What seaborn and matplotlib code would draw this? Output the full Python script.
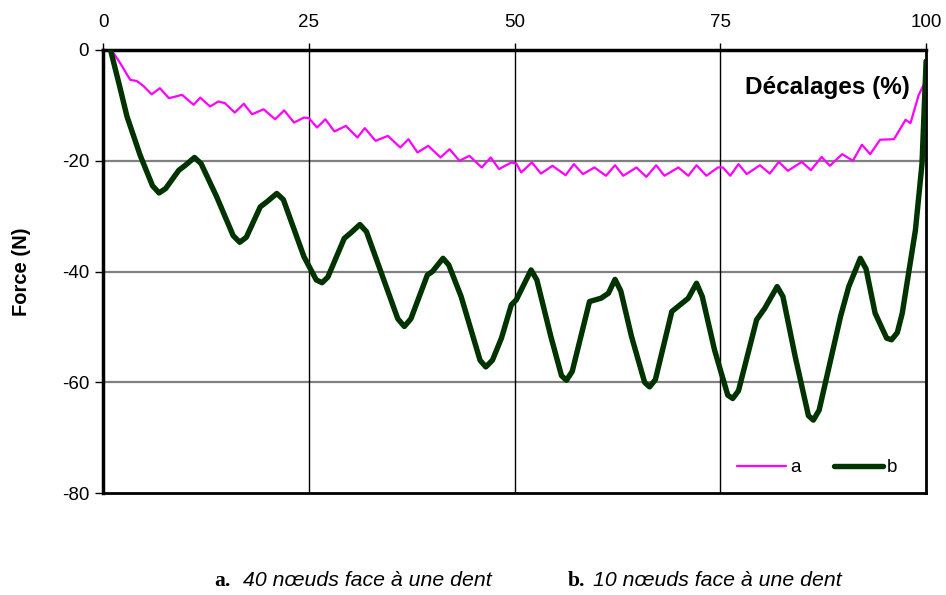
import numpy as np
import pandas as pd
import matplotlib
matplotlib.use("Agg")
import matplotlib.pyplot as plt
import seaborn as sns

# Courbe a : 40 noeuds face a une dent
a_x = [1.0, 2.0, 3.3, 4.1, 4.9, 5.9, 6.9, 8.0, 9.6, 11.0, 11.8, 13.0, 14.0, 14.8,
       16.0, 17.1, 18.1, 19.5, 20.9, 22.0, 23.2, 24.4, 25.0, 26.0, 27.0, 28.1,
       29.5, 30.9, 31.8, 33.1, 34.6, 36.1, 37.1, 38.2, 39.5, 41.0, 42.1, 43.3,
       44.5, 46.0, 47.1, 48.1, 49.6, 50.2, 50.8, 52.1, 53.2, 54.6, 56.2, 57.2,
       58.3, 59.7, 61.1, 62.2, 63.2, 64.8, 66.0, 67.2, 68.2, 69.9, 71.1, 72.1,
       73.3, 74.7, 75.3, 76.2, 77.2, 78.2, 79.8, 81.0, 82.1, 83.2, 84.9, 86.0,
       87.3, 88.3, 89.8, 91.1, 92.2, 93.2, 94.4, 96.1, 97.5, 98.1, 99.1, 99.8,
       100.0]
a_y = [0.0, -2.2, -5.4, -5.6, -6.5, -8.0, -6.9, -8.7, -8.1, -9.9, -8.6, -10.2, -9.3, -9.6,
       -11.3, -9.7, -11.6, -10.7, -12.5, -10.9, -13.1, -12.2, -12.3, -14.0, -12.5, -14.7,
       -13.7, -15.8, -14.1, -16.4, -15.5, -17.6, -16.1, -18.5, -17.3, -19.4, -17.9, -20.0,
       -19.1, -21.2, -19.4, -21.5, -20.3, -20.5, -22.1, -20.3, -22.3, -20.9, -22.6, -20.6,
       -22.4, -21.2, -22.7, -20.8, -22.7, -21.2, -22.9, -20.8, -22.7, -21.2, -22.7, -20.8,
       -22.7, -21.2, -21.2, -22.7, -20.6, -22.4, -20.8, -22.3, -20.2, -21.8, -20.2, -21.7,
       -19.3, -20.9, -18.8, -20.0, -17.1, -18.8, -16.2, -16.1, -12.6, -13.2, -8.1, -6.0,
       -3.5]

# Courbe b : 10 noeuds face a une dent
b_x = [0.9, 2.0, 2.9, 4.5, 6.0, 6.8, 7.6, 9.2, 10.0, 11.1, 11.9, 13.8, 15.8, 16.6,
       17.4, 19.1, 19.9, 21.1, 21.9, 24.4, 25.9, 26.6, 27.3, 29.3, 30.1, 31.2, 32.0,
       35.8, 36.6, 37.4, 39.4, 40.0, 41.3, 42.0, 43.5, 45.8, 46.5, 47.3, 48.4, 49.6,
       50.2, 52.0, 52.7, 54.4, 55.7, 56.3, 57.0, 59.1, 60.5, 61.4, 62.2, 62.9, 64.2,
       65.8, 66.4, 67.1, 69.1, 71.1, 72.1, 72.8, 74.3, 75.9, 76.5, 77.2, 79.4, 80.4,
       81.9, 82.6, 84.1, 85.7, 86.3, 87.0, 89.6, 90.6, 92.0, 92.7, 93.8, 95.2, 95.8,
       96.5, 97.1, 98.7, 99.5, 100.0]
b_y = [0.0, -6.5, -12.0, -19.0, -24.5, -25.8, -25.0, -21.7, -20.8, -19.4, -20.5, -26.5, -33.5, -34.7,
       -33.8, -28.3, -27.4, -25.9, -27.0, -37.3, -41.5, -42.0, -41.0, -34.0, -33.0, -31.5, -32.8,
       -48.5, -49.9, -48.5, -40.6, -40.0, -37.6, -38.8, -44.5, -56.0, -57.2, -56.0, -52.0, -46.0,
       -45.1, -39.7, -41.5, -51.7, -58.8, -59.6, -58.0, -45.4, -44.8, -43.9, -41.4, -43.5, -51.7,
       -60.0, -60.8, -59.5, -47.2, -44.8, -42.1, -44.5, -54.2, -62.3, -62.9, -61.5, -48.7, -46.6,
       -42.7, -44.5, -55.4, -66.0, -66.8, -65.0, -48.1, -42.7, -37.6, -39.5, -47.5, -52.0, -52.3,
       -51.0, -47.5, -32.5, -20.5, -2.0]

x_ticks = [0, 25, 50, 75, 100]
y_ticks = [0, -20, -40, -60, -80]

sns.set_style("white")
plt.rcParams['font.family'] = ['Liberation Sans', 'DejaVu Sans']
plt.rcParams['axes.unicode_minus'] = False
plt.rcParams['text.color'] = 'black'
plt.rcParams['axes.labelcolor'] = 'black'
plt.rcParams['xtick.color'] = 'black'
plt.rcParams['ytick.color'] = 'black'

fig = plt.figure(figsize=(9.46, 5.95), dpi=100)
ax = fig.add_axes([0.109, 0.171, 0.870, 0.745])

# grille
for y in [-20, -40, -60]:
    ax.axhline(y, color='#808080', lw=1.6, zorder=1)
for x in [25, 50, 75]:
    ax.axvline(x, color='black', lw=1.0, zorder=1)

sns.lineplot(x=a_x, y=a_y, ax=ax, color='#FF00FF', lw=1.6, label='a', sort=False,
             zorder=3, solid_joinstyle='round')
sns.lineplot(x=b_x, y=b_y, ax=ax, color='#003300', lw=3.9, label='b', sort=False,
             zorder=4, solid_joinstyle='round', solid_capstyle='round')

ax.set_xlim(0, 100)
ax.set_ylim(-80, 0)
ax.set_xticks(x_ticks)
ax.set_yticks(y_ticks)
ax.set_yticklabels([str(v) for v in y_ticks])
ax.xaxis.tick_top()
ax.tick_params(axis='x', direction='out', length=5, width=1, labelsize=13.5, pad=9)
ax.tick_params(axis='y', direction='out', length=6, width=1, labelsize=13.5, pad=4)
ax.tick_params(axis='y', left=True)
ax.tick_params(axis='x', top=True)

for side, w in [('top', 2.5), ('left', 2.5), ('bottom', 2.0), ('right', 2.0)]:
    ax.spines[side].set_color('black')
    ax.spines[side].set_linewidth(w)

ax.set_xlabel('')
ax.set_ylabel('Force (N)', fontsize=14.5, fontweight='bold', labelpad=22)
ax.text(0.98, 0.916, 'Décalages (%)', transform=ax.transAxes, ha='right', va='center',
        fontsize=17.5, fontweight='bold', zorder=5)

ax.legend(loc='lower right', bbox_to_anchor=(0.985, 0.0), ncol=2, frameon=False,
          fontsize=13.5, handlelength=2.6, handletextpad=0.2, columnspacing=1.8)

# légende du bas
fig.text(0.227, 0.015, 'a.', fontsize=15.5, fontweight='bold', family=['Liberation Serif'])
fig.text(0.257, 0.015, '40 nœuds face à une dent', fontsize=15.3, style='italic')
fig.text(0.600, 0.015, 'b.', fontsize=15.5, fontweight='bold', family=['Liberation Serif'])
fig.text(0.627, 0.015, '10 nœuds face à une dent', fontsize=15.3, style='italic')

fig.savefig('out.png', dpi=100)
